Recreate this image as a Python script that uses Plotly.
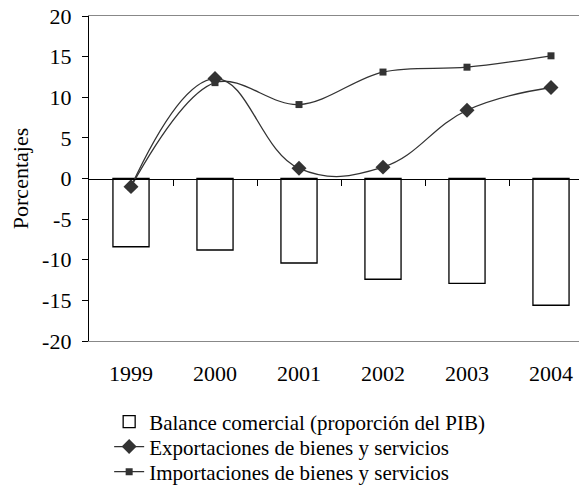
import plotly.graph_objects as go

years = ["1999", "2000", "2001", "2002", "2003", "2004"]
balance = [-8.4, -8.8, -10.4, -12.4, -12.9, -15.6]
exports = [-1.0, 12.3, 1.25, 1.4, 8.4, 11.2]
imports = [-1.0, 11.8, 9.1, 13.1, 13.7, 15.1]
y_ticks = [-20, -15, -10, -5, 0, 5, 10, 15, 20]
y_ticktext = ["-20", "-15", "-10", "-5", "0", "5", "10", "15", "20"]

FONT = "'Liberation Serif', 'Times New Roman', Times, serif"
TICK_SIZE = 22
LEG_SIZE = 21

fig = go.Figure()
fig.add_trace(go.Bar(x=years, y=balance, name="Balance comercial (proporción del PIB)",
                     marker=dict(color="white", line=dict(color="black", width=1.3)),
                     width=0.43, legend="legend"))
fig.add_trace(go.Scatter(x=years, y=exports, name="Exportaciones de bienes y servicios",
                         mode="lines+markers", line=dict(color="#333333", width=1.3, shape="spline", smoothing=1.2),
                         marker=dict(symbol="diamond", size=11.5, color="#333333"), legend="legend2"))
fig.add_trace(go.Scatter(x=years, y=imports, name="Importaciones de bienes y servicios",
                         mode="lines+markers", line=dict(color="#333333", width=1.3, shape="spline", smoothing=1.0),
                         marker=dict(symbol="square", size=7, color="#333333"), legend="legend3"))
# helper trace for the zero-line tick axis
fig.add_trace(go.Scatter(x=[0], y=[None], xaxis="x2", mode="markers", showlegend=False,
                         hoverinfo="skip", marker=dict(opacity=0)))

def leg(y):
    return dict(x=0.04, y=y, xanchor="left", yanchor="middle", orientation="v",
                font=dict(size=LEG_SIZE, family=FONT), bgcolor="rgba(0,0,0,0)")

fig.update_layout(
    width=587, height=498,
    margin=dict(l=81, r=2, t=8, b=165, autoexpand=False),
    paper_bgcolor="white", plot_bgcolor="white",
    font=dict(family=FONT, size=TICK_SIZE, color="black"),
    showlegend=True,
    legend=leg(-0.249), legend2=leg(-0.326), legend3=leg(-0.403),
    xaxis=dict(type="category", range=[-0.5, 5.5], showgrid=False, zeroline=False,
               showline=True, linecolor="#888888", linewidth=1, mirror=True, automargin=False,
               ticks="", ticklabelstandoff=13, tickfont=dict(size=TICK_SIZE, family=FONT)),
    xaxis2=dict(overlaying="x", anchor="free", position=0.5, range=[-0.5, 5.5], automargin=False,
                showgrid=False, zeroline=False, showline=True, linecolor="black", linewidth=1.3,
                ticks="outside", ticklen=6, tickcolor="black", tickwidth=1,
                tickvals=[0.5, 1.5, 2.5, 3.5, 4.5], showticklabels=False, side="bottom"),
    yaxis=dict(range=[-20, 20], tickvals=y_ticks, ticktext=y_ticktext, showgrid=False, zeroline=False,
               showline=True, linecolor="black", linewidth=1.3, automargin=False,
               ticks="outside", ticklen=6, tickcolor="black", ticklabeloverflow="allow",
               ticklabelstandoff=6, tickfont=dict(size=TICK_SIZE, family=FONT),
               title=dict(text="Porcentajes", font=dict(size=TICK_SIZE, family=FONT), standoff=10)),
)
fig.write_html("out.html")
